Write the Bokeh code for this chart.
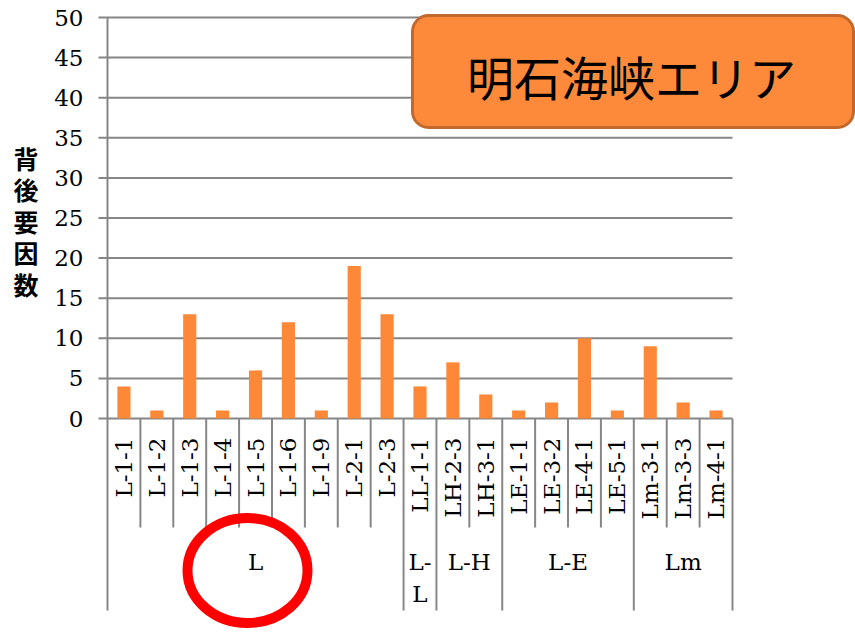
import math

from bokeh.core.properties import value
from bokeh.embed import file_html
from bokeh.models import Range1d
from bokeh.plotting import figure
from bokeh.resources import INLINE

# ---- data -------------------------------------------------------------
categories = ["L-1-1", "L-1-2", "L-1-3", "L-1-4", "L-1-5", "L-1-6", "L-1-9",
              "L-2-1", "L-2-3", "LL-1-1", "LH-2-3", "LH-3-1", "LE-1-1",
              "LE-3-2", "LE-4-1", "LE-5-1", "Lm-3-1", "Lm-3-3", "Lm-4-1"]
counts = [4, 1, 13, 1, 6, 12, 1, 19, 13, 4, 7, 3, 1, 2, 10, 1, 9, 2, 1]
group_labels = ["L", "L-\nL", "L-H", "L-E", "Lm"]
group_sizes = [9, 1, 2, 4, 3]
y_ticks = [0, 5, 10, 15, 20, 25, 30, 35, 40, 45, 50]
y_title = "背後要因数"
chart_title = "明石海峡エリア"

# ---- layout (pixels) ----------------------------------------------------
W, H = 855, 632
PLOT_L, PLOT_R = 107, 732          # left / right edge of the bar area
PLOT_T, PLOT_B = 17, 418           # top (y=50) / bottom (y=0)
CAT_W = (PLOT_R - PLOT_L) / len(categories)
UNIT = (PLOT_B - PLOT_T) / 50.0


def xd(px):
    return (px - PLOT_L) / CAT_W - 0.5


def yd(py):
    return (PLOT_B - py) / UNIT


GRAY = "#868686"
ORANGE = "#FD8837"
SERIF = "DejaVu Serif"
GOTHIC = "Noto Sans CJK JP"

# the frame spans the whole canvas so that the value scale, the category
# table and the title box all share one coordinate system
p = figure(width=W, height=H, output_backend="svg", toolbar_location=None,
           x_range=Range1d(xd(0), xd(W)), y_range=Range1d(yd(H), yd(0)),
           x_axis_location=None, y_axis_location=None, min_border=0)
p.grid.visible = False
p.outline_line_color = None
p.background_fill_color = "white"
p.border_fill_color = "white"

n = len(categories)
idx = list(range(n))
nt = len(y_ticks)

# value scale: grid lines (with their outer tick stubs) and tick labels
p.segment(x0=[xd(98)] * nt, x1=[n - 0.5] * nt, y0=y_ticks, y1=y_ticks,
          line_color=GRAY, line_width=2)
p.text(x=[xd(83)] * nt, y=y_ticks, text=[str(t) for t in y_ticks],
       text_align="right", text_baseline="middle",
       text_font=value(SERIF), text_font_size="23px", text_color="black")

# stacked, upright axis title
p.text(x=[xd(25.5)] * len(y_title),
       y=[yd(157 + 31.5 * i) for i in range(len(y_title))],
       text=list(y_title), text_align="center", text_baseline="middle",
       text_font=value(GOTHIC), text_font_size="25px",
       text_font_style="bold", text_color="black")

# bars
p.vbar(x=idx, top=counts, width=0.4, fill_color=ORANGE, line_color=None)

# category table: dividers
bounds = [0]
for s in group_sizes:
    bounds.append(bounds[-1] + s)
inner = [b for b in range(1, n) if b not in bounds]
p.segment(x0=[b - 0.5 for b in inner], x1=[b - 0.5 for b in inner],
          y0=[0] * len(inner), y1=[yd(527)] * len(inner),
          line_color=GRAY, line_width=2)
p.segment(x0=[b - 0.5 for b in bounds], x1=[b - 0.5 for b in bounds],
          y0=[y_ticks[-1] if b == 0 else 0 for b in bounds],
          y1=[yd(610)] * len(bounds), line_color=GRAY, line_width=2)

# category names, rotated
p.text(x=idx, y=[yd(437)] * n, text=categories, angle=math.pi / 2,
       text_align="right", text_baseline="middle",
       text_font=value(SERIF), text_font_size="23px", text_color="black")

# group names
gx = [(bounds[i] + bounds[i + 1] - 1) / 2 for i in range(len(group_sizes))]
p.text(x=gx, y=[yd(548)] * len(gx), text=group_labels,
       text_align="center", text_baseline="top", text_line_height=1.25,
       text_font=value(SERIF), text_font_size="23px", text_color="black")

# highlight ring around the L group
p.ellipse(x=[xd(247)], y=[yd(570)], width=[120 / CAT_W], height=[105 / UNIT],
          fill_color=None, line_color="#FF0000", line_width=10)

# title box
p.quad(left=[xd(412)], right=[xd(853)], top=[yd(15)], bottom=[yd(127)],
       fill_color="#FD8A3A", line_color="#C2682C", line_width=3,
       border_radius=16)
p.text(x=[xd(631)], y=[yd(75)], text=[chart_title], text_align="center",
       text_baseline="middle", text_font=value(GOTHIC),
       text_font_size="47px", text_color="black")

open("out.html", "w").write(file_html(p, INLINE))
